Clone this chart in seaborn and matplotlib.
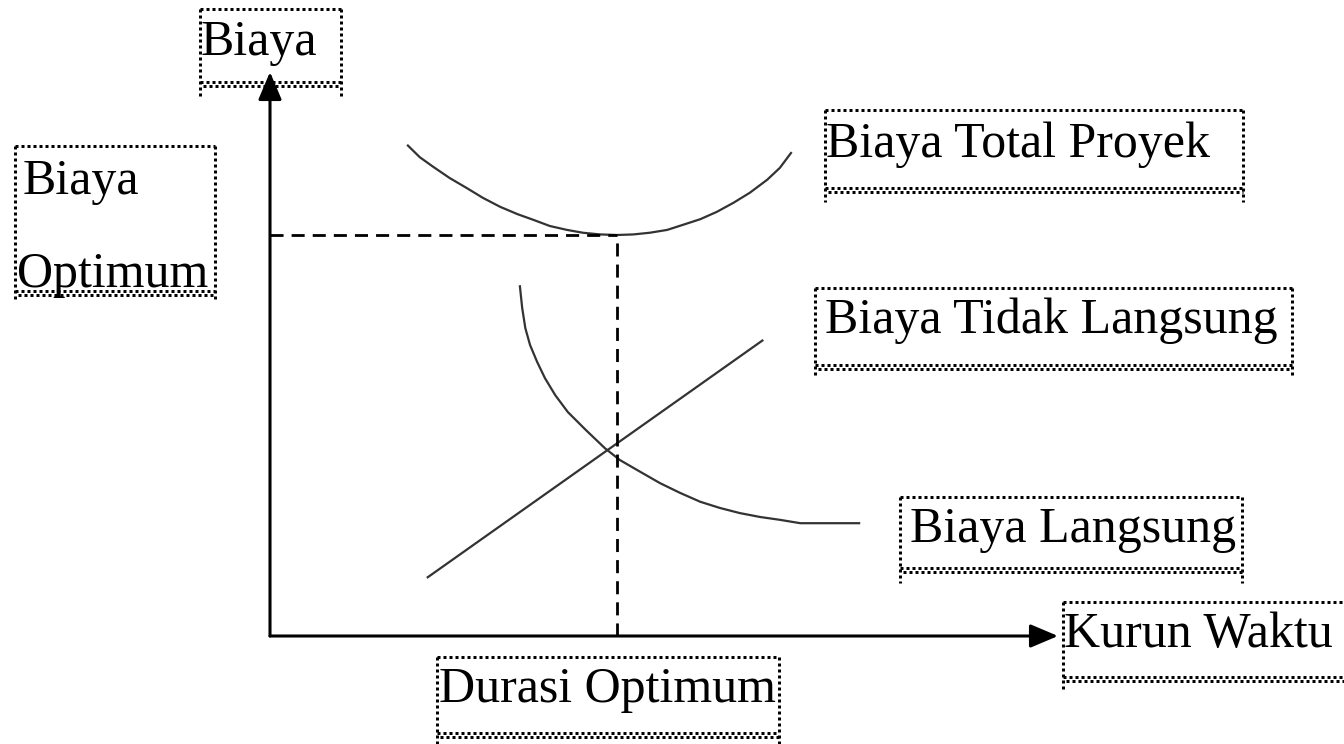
import matplotlib
matplotlib.use("Agg")
import matplotlib.pyplot as plt
import seaborn as sns
import pandas as pd

# ---- data (chart units: duration 0..10, cost 0..10) ----
total_x = [1.74, 1.90, 2.07, 2.28, 2.50, 2.70, 2.92, 3.14, 3.34, 3.55, 3.77, 3.97,
           4.19, 4.40, 4.61, 4.82, 5.04, 5.24, 5.46, 5.67, 5.88, 6.09, 6.31, 6.47, 6.62]
total_y = [8.71, 8.49, 8.32, 8.12, 7.94, 7.77, 7.61, 7.48, 7.38, 7.27, 7.20, 7.15,
           7.12, 7.11, 7.12, 7.15, 7.20, 7.29, 7.39, 7.52, 7.68, 7.86, 8.09, 8.30, 8.58]

direct_x = [3.17, 3.20, 3.24, 3.30, 3.39, 3.49, 3.62, 3.78, 4.01, 4.25, 4.44, 4.70,
            4.95, 5.20, 5.46, 5.71, 5.96, 6.22, 6.47, 6.73, 6.89, 7.49]
direct_y = [6.22, 5.82, 5.46, 5.16, 4.86, 4.57, 4.27, 3.97, 3.65, 3.33, 3.12, 2.91,
            2.71, 2.54, 2.38, 2.27, 2.18, 2.11, 2.06, 2.00, 2.00, 2.00]

indirect_x = [1.99, 6.26]
indirect_y = [1.03, 5.25]

opt_duration = 4.40
opt_cost = 7.11

axis_max_x = 10.0
axis_max_y = 10.0

# ---- labels ----
label_y_axis = "Biaya"
label_opt_cost = ["Biaya", "Optimum"]
label_total = "Biaya Total Proyek"
label_indirect = "Biaya Tidak Langsung"
label_direct = "Biaya Langsung"
label_opt_duration = "Durasi Optimum"
label_x_axis = "Kurun Waktu"

sns.set_theme(style="white")
plt.rcParams["font.family"] = ["Liberation Serif", "DejaVu Serif"]

W, H = 1344, 744
fig = plt.figure(figsize=(W / 100, H / 100), dpi=100)
fig.patch.set_facecolor("white")

# main axes: origin at pixel (270, 636), tips at x=1058, y=72
ox, oy, tx, ty = 270, 636, 1058, 72
ax = fig.add_axes([ox / W, (H - oy) / H, (tx - ox) / W, (oy - ty) / H])
ax.set_xlim(0, axis_max_x)
ax.set_ylim(0, axis_max_y)
ax.set_axis_off()
ax.patch.set_alpha(0)

curve_color = "#333333"
curve_lw = 1.6

df_total = pd.DataFrame({"x": total_x, "y": total_y})
df_direct = pd.DataFrame({"x": direct_x, "y": direct_y})
df_ind = pd.DataFrame({"x": indirect_x, "y": indirect_y})
for d in (df_total, df_direct, df_ind):
    sns.lineplot(data=d, x="x", y="y", ax=ax, color=curve_color, lw=curve_lw,
                 sort=False, estimator=None, legend=False,
                 solid_joinstyle="round", solid_capstyle="butt")

# dashed optimum guides
dash_lw = 2.0
dash_style = (0, (4.7, 2.9))
ax.plot([0, opt_duration], [opt_cost, opt_cost], color="black", lw=dash_lw,
        ls=dash_style, dash_capstyle="butt", clip_on=False)
ax.plot([opt_duration, opt_duration], [0, opt_cost], color="black", lw=dash_lw,
        ls=dash_style, dash_capstyle="butt", clip_on=False)

# axes arrows
arrow_props = dict(arrowstyle="-|>,head_length=0.85,head_width=0.36", lw=2.2,
                   color="black", shrinkA=0, shrinkB=0, mutation_scale=20)
ax.annotate("", xy=(axis_max_x, 0), xytext=(0, 0), arrowprops=arrow_props,
            annotation_clip=False)
ax.annotate("", xy=(0, axis_max_y), xytext=(0, 0), arrowprops=arrow_props,
            annotation_clip=False)

# overlay in pixel coordinates for the text boxes
ov = fig.add_axes([0, 0, 1, 1], zorder=5)
ov.set_xlim(0, W)
ov.set_ylim(H, 0)
ov.set_axis_off()
ov.patch.set_alpha(0)

dot_lw = 2.16  # 3 px


def dotted_box(x0, y0, x1, y1, tail):
    kw = dict(color="black", lw=dot_lw, dash_capstyle="butt", solid_capstyle="butt")
    ov.plot([x0, x1], [y0, y0], ls=(0, (1, 1)), **kw)
    ov.plot([x0, x1], [y1, y1], ls=(0, (1, 1)), **kw)
    ov.plot([x0, x1], [y1 + 3.5, y1 + 3.5], ls=(1, (1, 1)), **kw)
    ov.plot([x0, x0], [y0, tail], ls=(0, (1, 1)), **kw)
    ov.plot([x1, x1], [y0, tail], ls=(0, (1, 1)), **kw)


fs = 36
tkw = dict(fontsize=fs, color="black", va="baseline", ha="left",
           family=["Liberation Serif", "DejaVu Serif"])

dotted_box(200, 9, 341, 82, 98)
ov.text(201, 55, label_y_axis, **tkw)

dotted_box(15, 146, 215, 291, 299)
ov.text(23, 194, label_opt_cost[0], **tkw)
ov.text(17, 287, label_opt_cost[1], **tkw)

dotted_box(825, 110, 1243, 188, 202)
ov.text(826, 157, label_total, **tkw)

dotted_box(815, 288, 1292, 365, 378)
ov.text(825, 333, label_indirect, **tkw)

dotted_box(900, 497, 1242, 568, 583)
ov.text(910, 542, label_direct, **tkw)

dotted_box(437, 657, 779, 733, 750)
ov.text(439, 702, label_opt_duration, **tkw)

dotted_box(1063, 602, 1352, 677, 689)
ov.text(1064, 647, label_x_axis, **tkw)

fig.savefig("out.png", dpi=100, facecolor="white")
